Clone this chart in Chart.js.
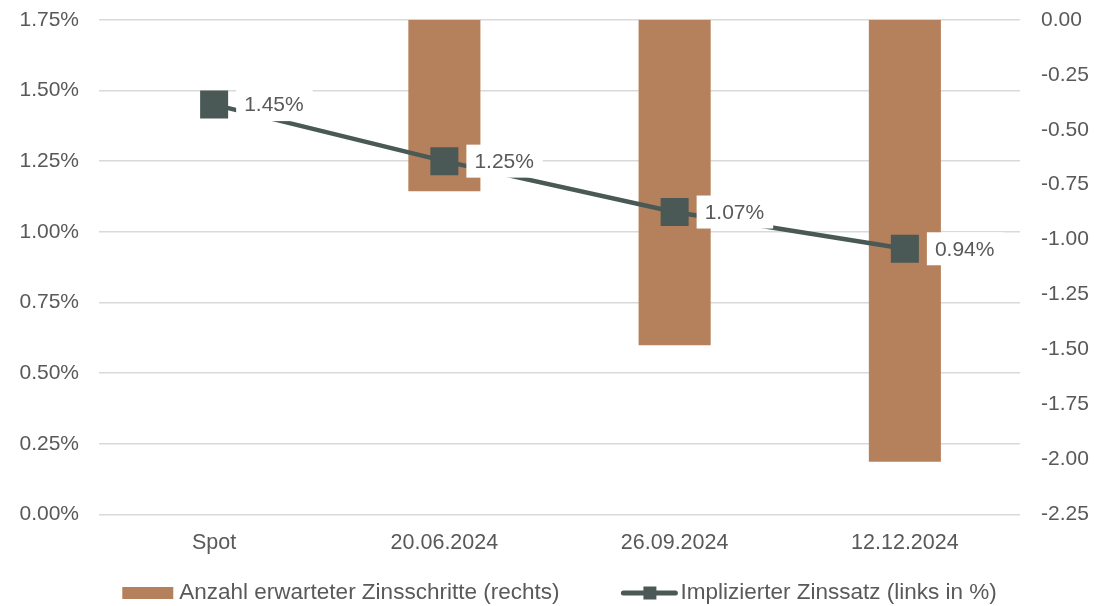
<!DOCTYPE html>
<html lang="de">
  <head>
    <meta charset="UTF-8" />
    <title>Implizierter Zinssatz & erwartete Zinsschritte</title>
    <script src="https://cdn.jsdelivr.net/npm/chart.js"></script>
    <style>
      body { margin: 0; background: #ffffff; }
      #wrap { width: 1094px; height: 606px; }
    </style>
  </head>
  <body>
    <div id="wrap"><canvas id="myChart" width="1094" height="606"></canvas></div>

    <script>
      // Daten
      const labels = ["Spot", "20.06.2024", "26.09.2024", "12.12.2024"];
      const zinsschritte = [0, -0.78, -1.48, -2.01]; // rechte Achse
      const zinssatz = [1.45, 1.25, 1.07, 0.94]; // linke Achse, in %
      const seriesNames = ["Anzahl erwarteter Zinsschritte (rechts)", "Implizierter Zinssatz (links in %)"];

      const BAR_COLOR = "#b5805c";
      const LINE_COLOR = "#4a5955";
      const TEXT_COLOR = "#595959";
      const FONT = "'Liberation Sans', Arial, sans-serif";

      // Wertebeschriftungen mit weissem Kasten rechts neben den Punkten
      const valueLabels = {
        id: "valueLabels",
        afterDatasetsDraw(chart) {
          const ctx = chart.ctx;
          const meta = chart.getDatasetMeta(1);
          ctx.save();
          ctx.font = "21px " + FONT;
          ctx.textBaseline = "middle";
          meta.data.forEach((pt, i) => {
            const txt = zinssatz[i].toFixed(2) + "%";
            const w = ctx.measureText(txt).width;
            ctx.fillStyle = "#ffffff";
            ctx.fillRect(pt.x + 22, pt.y - 16.5, w + 17, 33);
            ctx.fillStyle = TEXT_COLOR;
            ctx.fillText(txt, pt.x + 30, pt.y + 1);
          });
          ctx.restore();
        },
      };

      // eigene Legende unten
      const bottomLegend = {
        id: "bottomLegend",
        afterDraw(chart) {
          const ctx = chart.ctx;
          const area = chart.chartArea;
          ctx.save();
          ctx.font = "22.5px " + FONT;
          ctx.textBaseline = "middle";
          const w1 = ctx.measureText(seriesNames[0]).width;
          const w2 = ctx.measureText(seriesNames[1]).width;
          const total = 51 + 6 + w1 + 62 + 56 + 3 + w2;
          let x = (area.left + area.right) / 2 - total / 2;
          const y = 593;
          ctx.fillStyle = BAR_COLOR;
          ctx.fillRect(x, y - 6, 51, 12);
          x += 57;
          ctx.fillStyle = TEXT_COLOR;
          ctx.fillText(seriesNames[0], x, y);
          x += w1 + 62;
          ctx.strokeStyle = LINE_COLOR;
          ctx.lineWidth = 5;
          ctx.lineCap = "round";
          ctx.beginPath();
          ctx.moveTo(x + 2, y);
          ctx.lineTo(x + 54, y);
          ctx.stroke();
          ctx.fillStyle = LINE_COLOR;
          ctx.fillRect(x + 22, y - 6.5, 13, 13);
          x += 59;
          ctx.fillStyle = TEXT_COLOR;
          ctx.fillText(seriesNames[1], x, y);
          ctx.restore();
        },
      };

      // feste Achsbreiten, oberer Rand des Diagramms bei 17px
      function fixVertical(width) {
        return (s) => {
          s.width = width;
          s.paddingTop = 17;
          s.paddingBottom = 0;
        };
      }

      const ctx = document.getElementById("myChart").getContext("2d");
      const chart = new Chart(ctx, {
        data: {
          labels: labels,
          datasets: [
            {
              type: "bar",
              label: seriesNames[0],
              data: zinsschritte,
              yAxisID: "y1",
              backgroundColor: BAR_COLOR,
              barPercentage: 0.313,
              categoryPercentage: 1,
              order: 2,
            },
            {
              type: "line",
              label: seriesNames[1],
              data: zinssatz,
              yAxisID: "y",
              borderColor: LINE_COLOR,
              backgroundColor: LINE_COLOR,
              borderWidth: 4.5,
              pointStyle: "rect",
              pointRadius: 19.8,
              pointHoverRadius: 19.8,
              pointBorderWidth: 0,
              tension: 0,
              order: 1,
            },
          ],
        },
        options: {
          responsive: false,
          animation: false,
          layout: { padding: 0 },
          plugins: {
            legend: { display: false },
            tooltip: { enabled: false },
          },
          scales: {
            x: {
              grid: { display: false, drawTicks: false },
              border: { display: false },
              ticks: { color: TEXT_COLOR, font: { family: FONT, size: 21.5 }, padding: 16 },
              afterFit: (s) => { s.height = 91.5; },
            },
            y: {
              position: "left",
              min: 0,
              max: 1.75,
              grid: { color: "#d9d9d9", lineWidth: 1.5, drawTicks: false },
              border: { display: false },
              ticks: {
                stepSize: 0.25,
                color: TEXT_COLOR,
                font: { family: FONT, size: 21 },
                padding: 20,
                callback: (v) => v.toFixed(2) + "%",
              },
              afterFit: fixVertical(99),
            },
            y1: {
              position: "right",
              min: -2.25,
              max: 0,
              grid: { display: false, drawTicks: false },
              border: { display: false },
              ticks: {
                stepSize: 0.25,
                color: TEXT_COLOR,
                font: { family: FONT, size: 21 },
                padding: 21,
                callback: (v) => v.toFixed(2),
              },
              afterFit: fixVertical(74),
            },
          },
        },
        plugins: [valueLabels, bottomLegend],
      });
    </script>
  </body>
</html>
